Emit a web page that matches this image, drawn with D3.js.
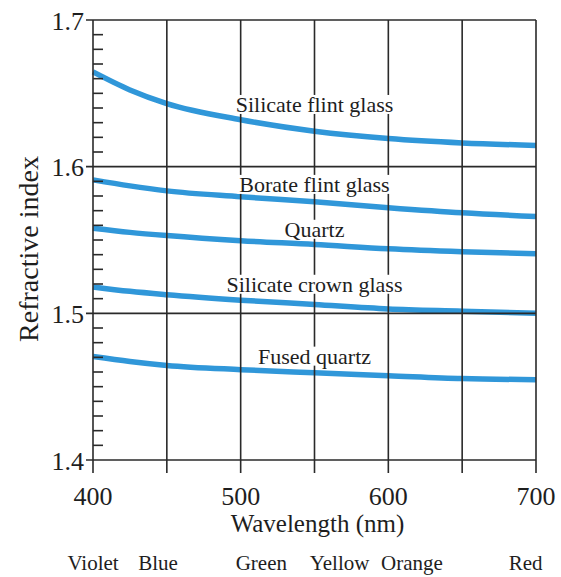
<!DOCTYPE html>
<html>
<head>
<meta charset="utf-8">
<script src="https://cdn.jsdelivr.net/npm/d3@7"></script>
<style>
  body { margin: 0; background: #fff; }
  svg text { font-family: "Liberation Serif", "Times New Roman", serif; fill: #1e1e1e; }
</style>
</head>
<body>
<svg id="chart"></svg>
<script>
const width = 561;
const height = 577;

// wavelength samples (nm)
const wavelengths = [400, 425, 450, 500, 550, 600, 650, 700];

// refractive index
const silicateFlint = [1.6646, 1.6523, 1.6430, 1.6320, 1.6242, 1.6192, 1.6162, 1.6145];
const borateFlint   = [1.5910, 1.5869, 1.5835, 1.5795, 1.5760, 1.5720, 1.5685, 1.5660];
const quartz        = [1.5580, 1.5552, 1.5530, 1.5495, 1.5470, 1.5440, 1.5420, 1.5406];
const silicateCrown = [1.5180, 1.5150, 1.5127, 1.5090, 1.5060, 1.5030, 1.5015, 1.5000];
const fusedQuartz   = [1.4706, 1.4672, 1.4645, 1.4616, 1.4595, 1.4575, 1.4555, 1.4548];

const seriesNames = ["Silicate flint glass", "Borate flint glass", "Quartz", "Silicate crown glass", "Fused quartz"];
const seriesValues = [silicateFlint, borateFlint, quartz, silicateCrown, fusedQuartz];
// where each label sits, in data coords (nm, index of baseline)
const labelNm = [550, 550, 550, 550, 550];
const labelN  = [1.6373, 1.5828, 1.5522, 1.5147, 1.4657];

const xTicks = [400, 500, 600, 700];
const xGrid = [400, 450, 500, 550, 600, 650, 700];
const yTicks = [1.4, 1.5, 1.6, 1.7];

const bandNames = ["Violet", "Blue", "Green", "Yellow", "Orange", "Red"];
const bandNm    = [400, 444, 514, 567, 616, 693];

const margin = {top: 20, right: 25, bottom: 117, left: 93};
const innerWidth = width - margin.left - margin.right;
const innerHeight = height - margin.top - margin.bottom;

const svg = d3.select("#chart").attr("width", width).attr("height", height);
const g = svg.append("g").attr("transform", "translate(" + margin.left + "," + margin.top + ")");

const x = d3.scaleLinear().domain([400, 700]).range([0, innerWidth]);
const y = d3.scaleLinear().domain([1.4, 1.7]).range([innerHeight, 0]);

const line = d3.line()
    .x(d => x(d[0]))
    .y(d => y(d[1]))
    .curve(d3.curveMonotoneX);

// curves
seriesValues.forEach(function(vals){
    g.append("path")
        .datum(wavelengths.map((w, i) => [w, vals[i]]))
        .attr("d", line)
        .attr("fill", "none")
        .attr("stroke", "#3097d9")
        .attr("stroke-width", 5.5)
        .attr("stroke-linecap", "butt");
});

const gridColor = "#2a2a2a";

// vertical grid lines + ticks below the axis
g.selectAll(".vgrid").data(xGrid).enter().append("line")
    .attr("x1", d => x(d)).attr("x2", d => x(d))
    .attr("y1", 0).attr("y2", innerHeight + 13)
    .attr("stroke", gridColor).attr("stroke-width", 1.6);

// horizontal grid lines
g.selectAll(".hgrid").data(yTicks).enter().append("line")
    .attr("x1", -7).attr("x2", innerWidth)
    .attr("y1", d => y(d)).attr("y2", d => y(d))
    .attr("stroke", gridColor).attr("stroke-width", 1.6);

// minor ticks on the inside of the y axis
const minor = d3.range(141, 170).map(v => v / 100).filter(v => !yTicks.some(t => Math.abs(t - v) < 1e-6));
g.selectAll(".minor").data(minor).enter().append("line")
    .attr("x1", 0).attr("x2", 10)
    .attr("y1", d => y(d)).attr("y2", d => y(d))
    .attr("stroke", gridColor).attr("stroke-width", 1.6);

// series labels with white backing
const labelG = g.append("g");
seriesNames.forEach(function(name, i){
    const t = labelG.append("text")
        .attr("x", x(labelNm[i]))
        .attr("y", y(labelN[i]))
        .attr("text-anchor", "middle")
        .attr("font-size", 22)
        .text(name);
    const bb = t.node().getBBox();
    labelG.insert("rect", "text")
        .attr("x", bb.x - 2).attr("y", bb.y + 3)
        .attr("width", bb.width + 4).attr("height", bb.height - 6)
        .attr("fill", "#fff");
});

// y tick labels
g.selectAll(".ylab").data(yTicks).enter().append("text")
    .attr("x", -9)
    .attr("y", d => y(d) + 9.5)
    .attr("text-anchor", "end")
    .attr("font-size", 26)
    .text(d => d3.format(".1f")(d));

// x tick labels
g.selectAll(".xlab").data(xTicks).enter().append("text")
    .attr("x", d => x(d))
    .attr("y", innerHeight + 45)
    .attr("text-anchor", "middle")
    .attr("font-size", 26)
    .text(d => d);

// axis titles
g.append("text")
    .attr("x", x(552))
    .attr("y", innerHeight + 72)
    .attr("text-anchor", "middle")
    .attr("font-size", 25)
    .text("Wavelength (nm)");

g.append("text")
    .attr("transform", "rotate(-90)")
    .attr("x", -(innerHeight / 2 + 9))
    .attr("y", -55)
    .attr("text-anchor", "middle")
    .attr("font-size", 28)
    .text("Refractive index");

// colour band names
g.selectAll(".band").data(bandNames).enter().append("text")
    .attr("x", (d, i) => x(bandNm[i]))
    .attr("y", innerHeight + 110)
    .attr("text-anchor", "middle")
    .attr("font-size", 21)
    .text(d => d);
</script>
</body>
</html>
